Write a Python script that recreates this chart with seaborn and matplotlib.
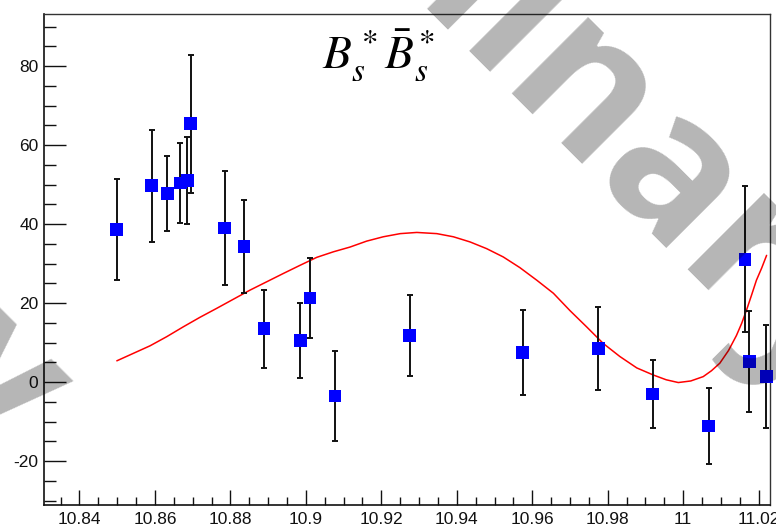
import matplotlib
matplotlib.use("Agg")
import matplotlib.pyplot as plt
from matplotlib.ticker import FixedLocator, FixedFormatter, AutoMinorLocator
import seaborn as sns
import pandas as pd

# Cross-section scan points (energy in GeV, value, symmetric error)
energy = [10.8499, 10.8591, 10.8633, 10.8667, 10.8686, 10.8695, 10.8785, 10.8836,
          10.8889, 10.8985, 10.9011, 10.9077, 10.9275, 10.9575, 10.9775, 10.9919,
          11.0068, 11.0164, 11.0175, 11.0220]
value = [38.6, 49.7, 47.8, 50.4, 51.0, 65.4, 39.0, 34.3,
         13.5, 10.5, 21.3, -3.5, 11.8, 7.5, 8.6, -3.0,
         -11.1, 31.1, 5.2, 1.4]
error = [12.8, 14.2, 9.5, 10.2, 11.0, 17.4, 14.4, 11.8,
         9.8, 9.5, 10.1, 11.3, 10.2, 10.7, 10.5, 8.6,
         9.7, 18.5, 12.8, 13.0]

# Fit curve sampled along the energy range
fit_energy = [10.8499, 10.8543, 10.8587, 10.8631, 10.8675, 10.8719, 10.8764, 10.8808,
              10.8852, 10.8896, 10.8940, 10.8985, 10.9029, 10.9073, 10.9117, 10.9161,
              10.9205, 10.9250, 10.9294, 10.9347, 10.9391, 10.9435, 10.9479, 10.9523,
              10.9567, 10.9612, 10.9656, 10.9700, 10.9744, 10.9788, 10.9832, 10.9877,
              10.9921, 10.9955, 10.9987, 11.0020, 11.0053, 11.0075, 11.0097, 11.0120,
              11.0141, 11.0155, 11.0168, 11.0181, 11.0194, 11.0208, 11.0221]
fit_value = [5.4, 7.3, 9.2, 11.5, 14.0, 16.4, 18.7, 21.0,
             23.3, 25.4, 27.5, 29.6, 31.6, 33.0, 34.2, 35.7,
             36.8, 37.6, 37.9, 37.6, 36.8, 35.5, 33.8, 31.7,
             29.0, 25.8, 22.5, 18.1, 14.0, 9.8, 6.5, 3.6,
             1.8, 0.6, -0.1, 0.3, 1.4, 2.9, 4.8, 8.0,
             11.8, 14.9, 18.3, 22.0, 25.8, 28.9, 32.1]

x_ticks = [10.84, 10.86, 10.88, 10.90, 10.92, 10.94, 10.96, 10.98, 11.00, 11.02]
x_tick_labels = ["10.84", "10.86", "10.88", "10.9", "10.92", "10.94", "10.96", "10.98", "11", "11.02"]
y_ticks = [-20, 0, 20, 40, 60, 80]
y_tick_labels = ["-20", "0", "20", "40", "60", "80"]

title = r"$B_s^*\bar{B}_s^*$"
watermark = "Preliminary"

sns.set_theme(style="white")
plt.rcParams["font.family"] = ["Liberation Sans", "DejaVu Sans"]
plt.rcParams["mathtext.fontset"] = "stix"

W, H = 776, 530
fig = plt.figure(figsize=(W / 100, H / 100), dpi=100)
ax = fig.add_axes([44 / W, 1 - 505 / H, (770 - 44) / W, (505 - 14) / H])

points = pd.DataFrame({"energy": energy, "value": value, "error": error})
fit = pd.DataFrame({"energy": fit_energy, "value": fit_value})

sns.lineplot(data=fit, x="energy", y="value", sort=False, color="#ff0000",
             linewidth=1.1, ax=ax, zorder=2)
ax.errorbar(points["energy"], points["value"], yerr=points["error"], fmt="none",
            ecolor="#111111", elinewidth=1.4, capsize=2.4, capthick=1.4, zorder=3)
sns.scatterplot(data=points, x="energy", y="value", marker="s", s=85,
                color="#0000ff", edgecolor="none", linewidth=0, ax=ax, zorder=4,
                clip_on=False)

ax.set_xlim(10.8306, 11.023)
ax.set_ylim(-31.1, 93.2)
ax.set_xlabel("")
ax.set_ylabel("")

ax.xaxis.set_major_locator(FixedLocator(x_ticks))
ax.xaxis.set_major_formatter(FixedFormatter(x_tick_labels))
ax.yaxis.set_major_locator(FixedLocator(y_ticks))
ax.yaxis.set_major_formatter(FixedFormatter(y_tick_labels))
ax.xaxis.set_minor_locator(AutoMinorLocator(4))
ax.yaxis.set_minor_locator(AutoMinorLocator(4))

ax.tick_params(axis="both", which="both", direction="in", color="#111111",
               width=1.0, labelsize=12.5, labelcolor="#111111",
               top=False, right=False, bottom=True, left=True)
ax.tick_params(axis="y", which="major", length=16, pad=4)
ax.tick_params(axis="y", which="minor", length=8.5)
ax.tick_params(axis="x", which="major", length=11, pad=5)
ax.tick_params(axis="x", which="minor", length=5.5)

for side in ["left", "bottom"]:
    ax.spines[side].set_color("#111111")
    ax.spines[side].set_linewidth(1.2)
for side in ["top", "right"]:
    ax.spines[side].set_color("#333333")
    ax.spines[side].set_linewidth(1.0)

fig.text(322 / W, 1 - 68 / H, title, ha="left", va="baseline", fontsize=34,
         color="black")

# Diagonal watermark, two lines
wm_style = dict(fontsize=142, family=["Open Sans", "DejaVu Sans"], weight="bold",
                color=(0, 0, 0, 0.29), rotation=-45, rotation_mode="anchor",
                ha="right", va="baseline", zorder=10)
fig.text(814 / W, 1 - 414 / H, watermark, **wm_style)
fig.text(-8 / W, 1 - 470 / H, watermark, **wm_style)

fig.savefig("out.png", dpi=100)
